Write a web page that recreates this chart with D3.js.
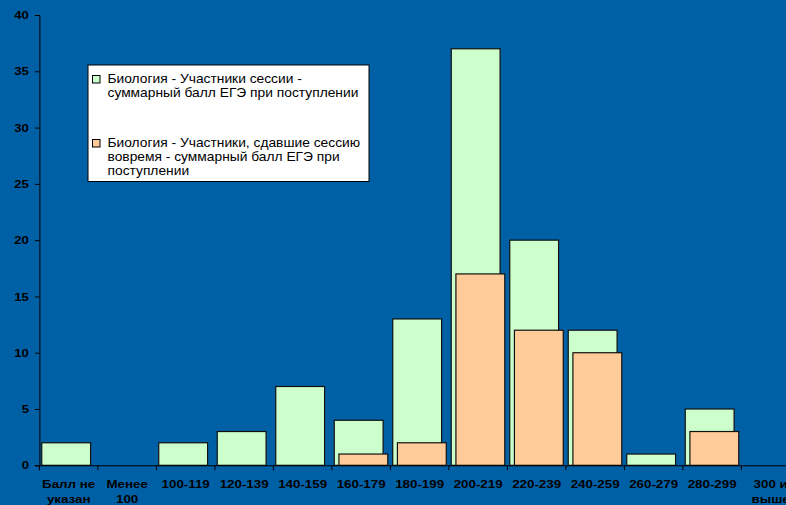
<!DOCTYPE html>
<html><head><meta charset="utf-8">
<script src="https://cdn.jsdelivr.net/npm/d3@7"></script>
<style>
html,body{margin:0;padding:0;background:#0060A6;}
svg{display:block;}
</style></head>
<body>
<script>
const categories = ["Балл не|указан","Менее|100","100-119","120-139","140-159","160-179","180-199","200-219","220-239","240-259","260-279","280-299","300 и|выше"];
const seriesNames = ["Биология - Участники сессии -|суммарный балл ЕГЭ при поступлении","Биология - Участники, сдавшие сессию|вовремя - суммарный балл ЕГЭ при|поступлении"];
const allParticipants = [2,0,2,3,7,4,13,37,20,12,1,5,0];
const onTime = [0,0,0,0,0,1,2,17,12,10,0,3,0];
const yTicks = [0,5,10,15,20,25,30,35,40];
const colors = ["#CCFFCC","#FFCC99"];

const W=786,H=505, SX=1.16;
const FONT="Liberation Sans, Arial, sans-serif";
const svg=d3.select("body").append("svg").attr("width",W).attr("height",H);
svg.append("rect").attr("width",W).attr("height",H).attr("fill","#0060A6");

const x0=39.4, step=58.5;
const x=d3.scaleBand().domain(categories).range([x0,x0+step*categories.length]).paddingInner(0).paddingOuter(0);
const y=d3.scaleLinear().domain([0,40]).range([465.3,15]);

const bw=x.bandwidth();
const series=[allParticipants,onTime];
const offsets=[0.04,0.12];
series.forEach((vals,si)=>{
  svg.append("g").selectAll("rect").data(categories.map((c,i)=>({c,v:vals[i]})).filter(d=>d.v>0))
   .join("rect")
   .attr("x",d=>x(d.c)+bw*offsets[si])
   .attr("y",d=>y(d.v))
   .attr("width",bw*0.835)
   .attr("height",d=>y(0)-y(d.v))
   .attr("fill",colors[si]).attr("stroke","#111").attr("stroke-width",1.2);
});

// Y axis
const ya=svg.append("g").attr("transform",`translate(${x0},0)`)
 .call(d3.axisLeft(y).tickValues(yTicks).tickSize(4.5).tickPadding(6));
ya.selectAll("text").attr("font-family",FONT).attr("font-weight","bold").attr("font-size","11.3px").attr("fill","#000")
 .attr("x",-10.5/SX).attr("transform",`scale(${SX},1)`);
ya.selectAll("line,path").attr("stroke","#000");

// X axis
const xa=svg.append("g").attr("transform",`translate(0,${y(0)})`)
 .call(d3.axisBottom(x).tickSize(0).tickPadding(10));
xa.select(".domain").attr("stroke","#000");
xa.selectAll(".tick text").each(function(d){
  const t=d3.select(this); const lines=d.split("|");
  t.text(null).attr("y",0).attr("dy",null);
  lines.forEach((l,i)=>t.append("tspan").attr("x",0).attr("y",23+i*15).text(l));
}).attr("font-family",FONT).attr("font-weight","bold").attr("font-size","11.5px").attr("fill","#000")
 .attr("transform",`scale(${SX},1)`);
xa.selectAll(".bnd").data(categories).join("line").attr("class","bnd")
 .attr("x1",d=>x(d)).attr("x2",d=>x(d)).attr("y1",0).attr("y2",5).attr("stroke","#000");

// Legend
const lg=svg.append("g");
lg.append("rect").attr("x",88).attr("y",65).attr("width",281).attr("height",116.5).attr("fill","#fff").attr("stroke","#000");
const entryY=[83,147];
seriesNames.forEach((n,i)=>{
  lg.append("rect").attr("x",92.5).attr("y",entryY[i]-7.5).attr("width",7.5).attr("height",7.5).attr("fill",colors[i]).attr("stroke","#000");
  n.split("|").forEach((l,j)=>{
    lg.append("text").attr("x",107.5/SX).attr("y",entryY[i]+j*14).text(l)
     .attr("transform",`scale(${SX},1)`)
     .attr("font-family",FONT).attr("font-size","11.9px").attr("fill","#000");
  });
});
</script>
</body></html>
